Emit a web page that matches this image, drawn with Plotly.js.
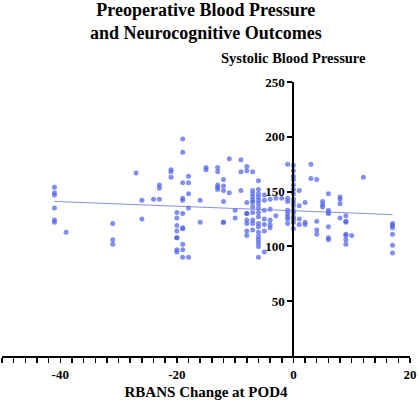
<!DOCTYPE html>
<html>
<head>
<meta charset="utf-8">
<script src="https://cdn.plot.ly/plotly-3.0.1.min.js"></script>
<style>html,body{margin:0;padding:0;background:#fff;}#chart{width:419px;height:400px;}</style>
</head>
<body>
<div id="chart"></div>
<script>
// RBANS change values (x) and their systolic BP readings (y), grouped by x value
const rbansGroups = [-41, -39, -31, -27, -26, -24, -23, -21, -20, -19, -18, -16, -15, -13, -12, -11, -10, -9, -8, -7, -6, -5, -4, -3, -2, -1, 0, 1, 2, 3, 4, 5, 6, 8, 9, 10, 12, 17];
const sbpGroups = [
  [154, 149, 147, 135, 124, 122],
  [113],
  [121, 106, 102],
  [167],
  [142, 125],
  [143],
  [143, 156, 153],
  [170, 168, 163],
  [131, 126, 119, 114, 108, 108, 97, 95],
  [198, 186, 158, 144, 142, 130, 117, 116, 102, 97, 90],
  [164, 158, 148, 135, 90],
  [142, 122],
  [172, 170],
  [172, 168, 156, 154, 152],
  [161, 155, 151, 141, 122, 122],
  [180, 149],
  [133, 126],
  [179, 168, 151],
  [173, 169, 140, 130, 130, 124, 121, 114, 110],
  [168, 151, 148, 145, 142, 140, 136, 131, 124, 121, 115],
  [160, 152, 148, 145, 142, 139, 135, 131, 127, 121, 118, 113, 109, 106, 103, 100, 90],
  [147, 142, 133, 125, 120, 114, 95],
  [143, 134, 124, 120, 117],
  [144, 128],
  [144],
  [175, 144, 141, 133, 130, 127, 125, 121],
  [174, 169, 164, 161, 156, 152, 148, 143, 140, 137, 133, 131, 127, 125, 122, 116],
  [151, 137, 125, 120],
  [140, 122, 120],
  [175, 162],
  [161, 123, 115, 111],
  [141, 138, 136],
  [148, 133, 131, 130, 118, 108, 106],
  [145, 143, 139, 126],
  [128, 123, 122, 111, 110, 106, 102],
  [110],
  [163],
  [121, 119, 117, 111, 101, 94]
];
// Fitted regression line (value at the data's x extremes)
const fitXEnds = [-41, 17];
const fitYEnds = [141, 129];

const xTickVals = [-40, -20, 0, 20];
const yTickVals = [50, 100, 150, 200, 250];

const xs = [], ys = [];
rbansGroups.forEach((xv, i) => sbpGroups[i].forEach(yv => { xs.push(xv); ys.push(yv); }));

const serif = 'Liberation Serif';

const traces = [
  {
    x: xs, y: ys, type: 'scatter', mode: 'markers',
    marker: {size: 5, color: 'rgba(75,95,235,0.7)'},
    hoverinfo: 'x+y', showlegend: false
  },
  {
    x: fitXEnds, y: fitYEnds, type: 'scatter', mode: 'lines',
    line: {color: 'rgba(120,130,235,0.9)', width: 1},
    hoverinfo: 'skip', showlegend: false
  }
];

const layout = {
  width: 419, height: 400,
  margin: {l: 2, r: 9, t: 82, b: 44},
  paper_bgcolor: '#fff', plot_bgcolor: '#fff',
  xaxis: {
    range: [-50, 20], tickvals: xTickVals, ticktext: xTickVals.map(String),
    ticks: 'outside', ticklen: 5, tickwidth: 1.5, tickcolor: '#000',
    minor: {dtick: 2, tick0: 0, ticks: 'outside', ticklen: 5, tickwidth: 1.5, tickcolor: '#000', showgrid: false},
    showline: true, linecolor: '#000', linewidth: 2,
    showgrid: false, zeroline: false,
    tickfont: {family: serif, size: 13, color: '#000', weight: 'bold'},
    title: {text: 'RBANS Change at POD4', font: {family: serif, size: 15, color: '#000', weight: 'bold'}, standoff: 6},
    fixedrange: true
  },
  yaxis: {
    range: [0, 250], tickvals: yTickVals, ticktext: yTickVals.map(String),
    anchor: 'free', position: 50 / 70,
    ticks: 'outside', ticklen: 5, tickwidth: 2, tickcolor: '#000',
    showline: true, linecolor: '#000', linewidth: 2,
    showgrid: false, zeroline: false,
    tickfont: {family: serif, size: 13, color: '#000', weight: 'bold'},
    fixedrange: true
  },
  annotations: [
    {
      text: 'Preoperative Blood Pressure<br>and Neurocognitive Outcomes',
      xref: 'paper', x: 0.5, xanchor: 'center',
      yref: 'paper', y: 1, yanchor: 'bottom', yshift: 37,
      showarrow: false, align: 'center',
      font: {family: serif, size: 18, color: '#000', weight: 'bold'}
    },
    {
      text: 'Systolic Blood Pressure',
      xref: 'x', x: 0, xanchor: 'center',
      yref: 'paper', y: 1, yanchor: 'bottom', yshift: 14,
      showarrow: false,
      font: {family: serif, size: 14.5, color: '#000', weight: 'bold'}
    }
  ]
};

Plotly.newPlot('chart', traces, layout, {displayModeBar: false, staticPlot: true});
</script>
</body>
</html>
